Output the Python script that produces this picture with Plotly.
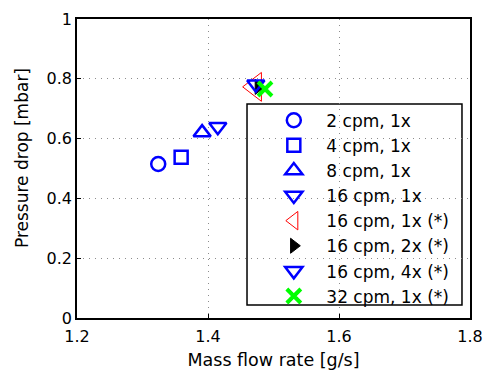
import plotly.graph_objects as go

labels = ["2 cpm, 1x", "4 cpm, 1x", "8 cpm, 1x", "16 cpm, 1x",
          "16 cpm, 1x (*)", "16 cpm, 2x (*)", "16 cpm, 4x (*)", "32 cpm, 1x (*)"]
flow = [1.324, 1.359, 1.391, 1.415, 1.472, 1.477, 1.473, 1.487]
dp = [0.515, 0.538, 0.620, 0.640, 0.773, 0.773, 0.782, 0.766]
symbols = ["circle-open", "square-open", "triangle-up-open", "triangle-down-open",
           "triangle-left-open", "triangle-right", "triangle-down-open", "x-thin-open"]
colors = ["#0000ff", "#0000ff", "#0000ff", "#0000ff", "#ff0000", "#000000", "#0000ff", "#00ff00"]
sizes = [14, 13, 15, 15, 25, 13, 15, 14]
widths = [2.5, 2.5, 2.5, 2.5, 1, 1, 2.5, 4]

fig = go.Figure()
for i in range(len(labels)):
    fig.add_trace(go.Scatter(
        x=[flow[i]], y=[dp[i]], mode="markers", name=labels[i],
        marker=dict(symbol=symbols[i], size=sizes[i], color=colors[i],
                    line=dict(width=widths[i], color=colors[i]))))

font = "DejaVu Sans, sans-serif"
fig.update_layout(
    width=486, height=370,
    margin=dict(l=77, r=16, t=19, b=52, autoexpand=False),
    plot_bgcolor="white", paper_bgcolor="white",
    font=dict(family=font, size=16, color="black"),
    showlegend=True,
    legend=dict(x=0.469, y=0.72, xanchor="left", yanchor="top",
                bgcolor="rgba(0,0,0,0)", borderwidth=0, itemwidth=55,
                font=dict(size=17), tracegroupgap=0, itemsizing="trace"),
    shapes=[dict(type="rect", xref="paper", yref="paper",
                 x0=0.4326, x1=0.9796, y0=0.0435, y1=0.7157,
                 line=dict(color="black", width=1.5), fillcolor="white", layer="below")],
    annotations=[dict(text="Pressure drop [mbar]", xref="paper", yref="paper",
                      x=-0.14, y=0.535, xanchor="center", yanchor="middle",
                      textangle=-90, showarrow=False, font=dict(size=17))],
)
grid = dict(showgrid=True, gridcolor="#8c8c8c", griddash="1px,5px", gridwidth=1,
            showline=True, linecolor="black", linewidth=1.5, mirror=True,
            ticks="inside", ticklen=4, tickcolor="black", zeroline=False, automargin=False)
fig.update_xaxes(range=[1.2, 1.8], tickvals=[1.2, 1.4, 1.6, 1.8], ticktext=["1.2", "1.4", "1.6", "1.8"],
                 ticklabelstandoff=3,
                 title=dict(text="Mass flow rate [g/s]", standoff=9, font=dict(size=17.5)), **grid)
fig.update_yaxes(range=[0, 1], tickvals=[0, 0.2, 0.4, 0.6, 0.8, 1], ticktext=["0", "0.2", "0.4", "0.6", "0.8", "1"],
                 **grid)
fig.write_html("out.html")
